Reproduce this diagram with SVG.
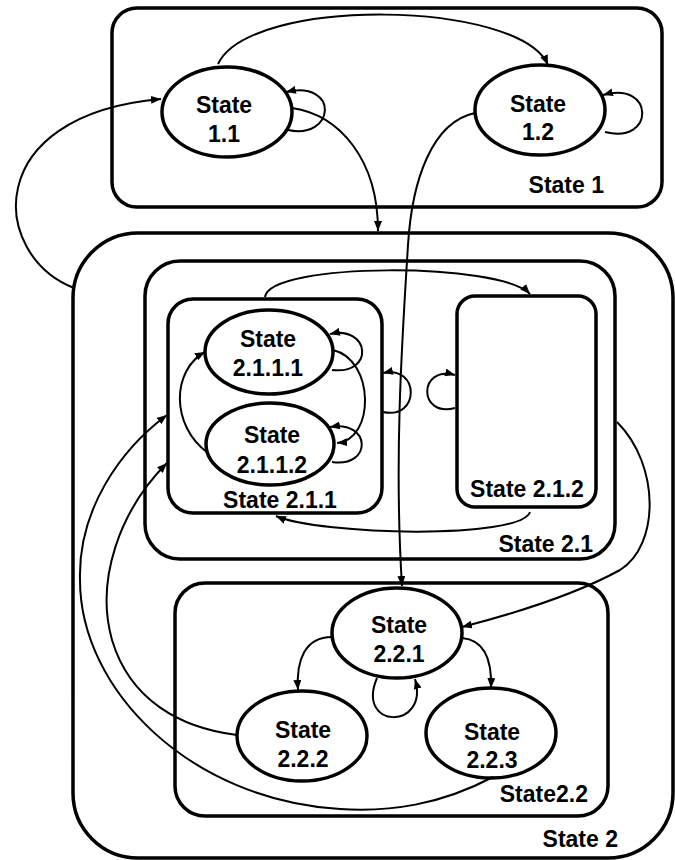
<svg xmlns="http://www.w3.org/2000/svg" width="675" height="860" viewBox="0 0 675 860">
<style>
.box{fill:none;stroke:#000;stroke-width:3.5}
.st{fill:#fff;stroke:#000;stroke-width:3.5}
.c{fill:none;stroke:#000;stroke-width:2}
.ca{fill:none;stroke:#000;stroke-width:2;marker-end:url(#ah)}
text{font-family:"Liberation Sans",Arial,sans-serif;font-weight:bold;font-size:23px;fill:#000}
.m{text-anchor:middle}
.e{text-anchor:end}
</style>
<defs>
<marker id="ah" viewBox="0 0 10 8" refX="10" refY="4" markerWidth="10" markerHeight="8" markerUnits="userSpaceOnUse" orient="auto">
<path d="M0,0 L10,4 L0,8 z" fill="#000"/>
</marker>
</defs>
<rect width="675" height="860" fill="#fff"/>
<g id="state1">
<rect class="box" x="112" y="8" width="550" height="199" rx="25"/>
<text class="e" x="604" y="193">State 1</text>
</g>
<g id="state2">
<rect class="box" x="73" y="233" width="600" height="625" rx="65"/>
<text class="e" x="618" y="847">State 2</text>
</g>
<g id="state2_1">
<rect class="box" x="145" y="261" width="470" height="298" rx="35"/>
<text class="e" x="593" y="552">State 2.1</text>
</g>
<g id="state2_1_1">
<rect class="box" x="168" y="299" width="214" height="214" rx="25"/>
<text class="m" x="280" y="508">State 2.1.1</text>
</g>
<g id="state2_1_2">
<rect class="box" x="457" y="296" width="139" height="211" rx="18"/>
<text class="m" x="527" y="497">State 2.1.2</text>
</g>
<g id="state2_2">
<rect class="box" x="175" y="583" width="433" height="233" rx="30"/>
<text class="e" x="588" y="802">State2.2</text>
</g>
<g id="state1_1">
<ellipse class="st" cx="227" cy="112" rx="65" ry="45"/>
<text class="m" x="224" y="113">State</text>
<text class="m" x="224" y="142">1.1</text>
</g>
<g id="state1_2">
<ellipse class="st" cx="540" cy="110" rx="65" ry="45"/>
<text class="m" x="538" y="112">State</text>
<text class="m" x="538" y="140">1.2</text>
</g>
<g id="state2_1_1_1">
<ellipse class="st" cx="269" cy="352" rx="64" ry="42"/>
<text class="m" x="268" y="347">State</text>
<text class="m" x="268" y="376">2.1.1.1</text>
</g>
<g id="state2_1_1_2">
<ellipse class="st" cx="270" cy="444" rx="64" ry="41"/>
<text class="m" x="272" y="443">State</text>
<text class="m" x="272" y="473">2.1.1.2</text>
</g>
<g id="state2_2_1">
<ellipse class="st" cx="397" cy="633" rx="65" ry="45"/>
<text class="m" x="399" y="633">State</text>
<text class="m" x="399" y="662">2.2.1</text>
</g>
<g id="state2_2_2">
<ellipse class="st" cx="302" cy="736" rx="65" ry="45"/>
<text class="m" x="303" y="738">State</text>
<text class="m" x="303" y="767">2.2.2</text>
</g>
<g id="state2_2_3">
<ellipse class="st" cx="491" cy="733" rx="65" ry="45"/>
<text class="m" x="492" y="740">State</text>
<text class="m" x="492" y="768">2.2.3</text>
</g>
<g id="connectors">
<path class="ca" d="M218,64 C250,-4 520,0 548,65"/>
<path class="ca" d="M288,130 C335,140 340,80 286,92"/>
<path class="ca" d="M605,132 C655,145 655,80 603,95"/>
<path class="ca" d="M292,108 C340,115 378,160 378,231"/>
<path class="ca" d="M74,288 C-10,255 -20,115 161,99"/>
<path class="ca" d="M475,113 C432,122 412,180 408,245 C402,340 394,460 402,586"/>
<path class="ca" d="M265,297 C270,262 500,262 530,294"/>
<path class="ca" d="M530,512 C520,540 320,535 276,516"/>
<path class="ca" d="M332,370 C375,375 370,325 330,334"/>
<path class="ca" d="M333,350 C375,360 375,440 337,443"/>
<path class="ca" d="M332,462 C372,468 372,420 330,427"/>
<path class="ca" d="M208,453 C170,425 172,370 205,352"/>
<path class="ca" d="M383,412 C420,420 420,365 383,373"/>
<path class="ca" d="M455,408 C418,418 418,365 455,375"/>
<path class="ca" d="M617,422 C660,465 660,545 620,570 C580,592 520,612 462,627"/>
<path class="ca" d="M332,637 C305,637 296,660 298,690"/>
<path class="ca" d="M462,638 C485,640 492,660 491,688"/>
<path class="ca" d="M377,678 C355,730 430,730 415,679"/>
<path class="ca" d="M237,735 C180,728 130,700 112,640 C95,580 120,510 167,463"/>
<path class="ca" d="M493,777 C440,805 390,812 340,809 C190,800 80,690 80,580 C78,510 120,450 167,415"/>
</g>
</svg>
